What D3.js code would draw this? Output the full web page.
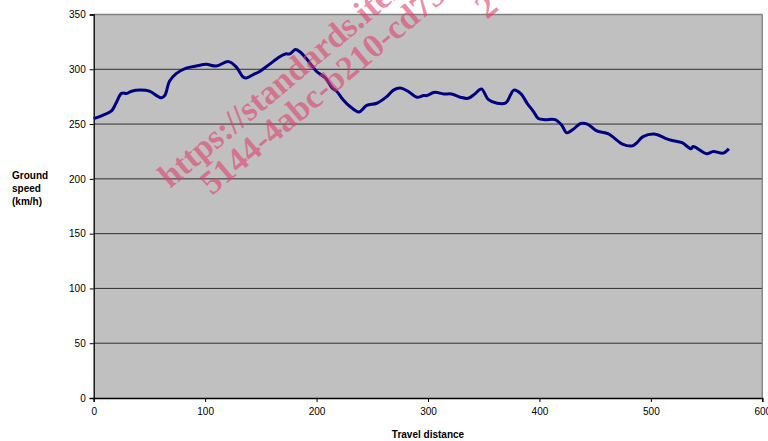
<!DOCTYPE html>
<html><head><meta charset="utf-8">
<script src="https://cdn.jsdelivr.net/npm/d3@7"></script>
<style>body{margin:0;background:#fff}svg{display:block}</style>
</head><body>
<svg id="c" width="768" height="441"></svg>
<script>
const distance = [0,8,16,20,25,30,34,42,50,58,61,64,68,74,83,92,101,110,121,128,134,137,143,149,157,167,172,176,181,185,193,200,208,214,218,224,230,238,245,254,263,269,275,282,290,296,299,306,314,321,329,336,342,348,354,362,370,374,377,383,389,395,399,405,414,420,424.5,430,437,443,451,462,474,483,487,493,504,513,519,528,536,538,550,556,565,570];
const speed = [255,258,262,269,278,278,280,281,280,275,274,276.5,289,296,301,303,304.5,303,307,302,293,292,295,298,304,311.5,314,314,318,316,307,298,292,283,280,272,266,261,267,269,275,281,283,280,274.5,276,276,279,277.5,277.5,274.5,273.5,277.5,282,272.5,269,269.5,276.5,281,278,269,261,255,254,254,249,242,245,250.5,250,244,241,232,230,232.5,238.5,240.8,237,235,233,227.5,229.5,223,225,223.5,227.5];
const xTicks = [0,100,200,300,400,500,600];
const yTicks = [0,50,100,150,200,250,300,350];
const yTitle = ["Ground","speed","(km/h)"];
const xTitle = "Travel distance";
const watermark = ["https://standards.iteh.ai/catalog", "5144-4abc-b210-cd75", "2"];

const svg = d3.select("#c");
const x = d3.scaleLinear().domain([0,600]).range([93.7,762.3]);
const y = d3.scaleLinear().domain([0,350]).range([398,14.5]);

svg.append("rect").attr("x",x(0)).attr("y",y(350)).attr("width",x(600)-x(0)).attr("height",y(0)-y(350)).attr("fill","#C0C0C0");

svg.append("g").selectAll("line").data(yTicks.filter(d=>d>0 && d<350)).join("line")
  .attr("x1",x(0)).attr("x2",x(600)).attr("y1",d=>y(d)).attr("y2",d=>y(d))
  .attr("stroke","#303030").attr("stroke-width",1);
svg.append("line").attr("x1",x(0)).attr("x2",x(600)).attr("y1",y(350)).attr("y2",y(350)).attr("stroke","#808080").attr("stroke-width",1.3);
svg.append("line").attr("x1",x(600)).attr("x2",x(600)).attr("y1",y(350)).attr("y2",y(0)).attr("stroke","#808080").attr("stroke-width",1.3);

const yAxis = svg.append("g").attr("transform",`translate(${x(0)},0)`)
  .call(d3.axisLeft(y).tickValues(yTicks).tickSize(4).tickPadding(4));
const xAxis = svg.append("g").attr("transform",`translate(0,${y(0)})`)
  .call(d3.axisBottom(x).tickValues(xTicks).tickSize(4).tickPadding(6));
[yAxis,xAxis].forEach(a=>{
  a.selectAll("path").attr("stroke","#000").attr("stroke-width",1.3);
  a.selectAll("line").attr("stroke","#000");
  a.selectAll("text").attr("font-family","Liberation Sans, Arial, sans-serif").attr("font-size",10).attr("fill","#000");
});

svg.append("path").datum(distance.map((d,i)=>[d,speed[i]]))
  .attr("d",d3.line().x(d=>x(d[0])).y(d=>y(d[1])).curve(d3.curveCatmullRom.alpha(0.5)))
  .attr("fill","none").attr("stroke","#000080").attr("stroke-width",3).attr("stroke-linejoin","round");

svg.append("text").attr("x",12).attr("font-family","Liberation Sans, Arial, sans-serif").attr("font-size",10).attr("font-weight","bold")
  .selectAll("tspan").data(yTitle).join("tspan").attr("x",12).attr("y",(d,i)=>179+i*13).text(d=>d);
svg.append("text").attr("x",x(300)).attr("y",438).attr("text-anchor","middle")
  .attr("font-family","Liberation Sans, Arial, sans-serif").attr("font-size",10).attr("font-weight","bold").text(xTitle);

const wmStart = [[170,189],[212,196],[487,20]];
svg.append("g").selectAll("text").data(watermark).join("text")
  .attr("transform",(d,i)=>`translate(${wmStart[i][0]},${wmStart[i][1]}) rotate(-40)`)
  .attr("font-family","Liberation Serif, Times New Roman, serif").attr("font-weight","bold").attr("font-size",34)
  .attr("fill","#E0406F").attr("fill-opacity",0.6).text(d=>d);
</script>
</body></html>
